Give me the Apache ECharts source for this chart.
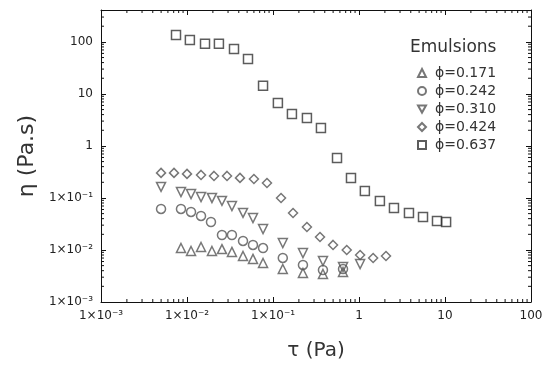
<!DOCTYPE html>
<html><head><meta charset="utf-8">
<script src="https://cdn.jsdelivr.net/npm/echarts@6/dist/echarts.min.js"></script>
<style>html,body{margin:0;padding:0;background:#fff}#c{width:550px;height:366px}</style>
</head><body><div id="c"></div>
<script>
const tickExponents = [-3, -2, -1, 0, 1, 2];
const tickLabels = ['1×10⁻³', '1×10⁻²', '1×10⁻¹', '1', '10', '100'];
const seriesNames = ['ϕ=0.171', 'ϕ=0.242', 'ϕ=0.310', 'ϕ=0.424', 'ϕ=0.637'];

const tau171 = [0.00851,0.01114,0.01456,0.0195,0.0255,0.0333,0.0448,0.0585,0.0766,0.130,0.223,0.381,0.652];
const eta171 = [0.0109,0.00957,0.0114,0.00957,0.0104,0.00916,0.00767,0.00672,0.00562,0.00431,0.00361,0.00345,0.00377];

const tau242 = [0.00499,0.00851,0.01114,0.01456,0.0190,0.0255,0.0333,0.0448,0.0585,0.0766,0.130,0.223,0.381,0.652];
const eta242 = [0.0614,0.0614,0.0538,0.0451,0.0345,0.0194,0.0194,0.0149,0.0125,0.0109,0.00702,0.00515,0.00412,0.00431];

const tau310 = [0.00499,0.00851,0.01114,0.01456,0.0195,0.0255,0.0333,0.0448,0.0585,0.0766,0.130,0.223,0.381,0.652,1.03];
const eta310 = [0.163,0.130,0.119,0.104,0.100,0.0876,0.0701,0.0515,0.0412,0.0253,0.0136,0.00875,0.00614,0.00471,0.00538];

const tau424 = [0.00499,0.00706,0.0100,0.01456,0.0206,0.0292,0.0413,0.0600,0.0851,0.124,0.171,0.248,0.352,0.499,0.720,1.03,1.46,2.06];
const eta424 = [0.303,0.303,0.290,0.277,0.265,0.265,0.243,0.232,0.194,0.100,0.0515,0.0277,0.0178,0.0125,0.0100,0.0080,0.0070,0.00767];

const tau637 = [0.00745,0.0108,0.0162,0.0235,0.0352,0.0512,0.0766,0.114,0.166,0.248,0.361,0.555,0.807,1.17,1.75,2.55,3.81,5.55,8.07,10.3];
const eta637 = [136,109,91.6,91.6,73.3,47.1,14.3,6.71,4.12,3.45,2.22,0.588,0.243,0.136,0.0876,0.0642,0.0515,0.0431,0.0361,0.0345];

const X_MIN = 0.001, X_MAX = 100, Y_MIN = 0.001, Y_MAX = 410;

function pair(xs, ys) { return xs.map((x, i) => [x, ys[i]]); }
function fmt(v) {
  const e = Math.round(Math.log10(v));
  if (Math.abs(Math.log10(v) - e) > 1e-6) return '';
  const i = tickExponents.indexOf(e);
  return i >= 0 ? tickLabels[i] : '';
}

// minor tick positions (2..9 × 10^k) built from the decade list
const minorTicks = [];
tickExponents.slice(0, -1).forEach(e => {
  for (let m = 2; m <= 9; m++) {
    const v = m * Math.pow(10, e);
    minorTicks.push([v, Y_MIN, 'b']);
    minorTicks.push([v, Y_MAX, 't']);
    minorTicks.push([X_MIN, v, 'l']);
    minorTicks.push([X_MAX, v, 'r']);
  }
});
for (let m = 2; m <= 4; m++) {
  minorTicks.push([X_MIN, m * 100, 'l']);
  minorTicks.push([X_MAX, m * 100, 'r']);
}

const mk = (name, data, symbol, color) => ({
  name, type: 'scatter', data, symbol, symbolSize: 9,
  itemStyle: { color: 'rgba(0,0,0,0)', borderColor: color, borderWidth: 1.5 },
  emphasis: { disabled: true }, z: 3
});

const axisCommon = {
  type: 'log', logBase: 10,
  axisLine: { show: true, lineStyle: { color: '#111', width: 1 } },
  axisTick: { show: true, inside: true, length: 5, lineStyle: { color: '#111' } },
  splitLine: { show: false },
  minorTick: { show: false }
};

const chart = echarts.init(document.getElementById('c'), null, { renderer: 'canvas' });
chart.setOption({
  animation: false,
  backgroundColor: '#fff',
  textStyle: { fontFamily: 'DejaVu Sans' },
  grid: { left: 101, right: 19, top: 10, bottom: 63 },
  title: {
    text: 'Emulsions', left: 405, top: 34,
    textStyle: { fontFamily: 'DejaVu Sans', fontSize: 17, fontWeight: 'normal', color: '#333' }
  },
  legend: {
    orient: 'vertical', left: 412, top: 61, itemGap: 4,
    itemWidth: 8, itemHeight: 8, selectedMode: false,
    textStyle: { fontFamily: 'DejaVu Sans', fontSize: 14, color: '#333', padding: [0, 0, 0, 4] },
    data: seriesNames
  },
  xAxis: [
    Object.assign({}, axisCommon, {
      min: X_MIN, max: X_MAX, position: 'bottom',
      name: 'τ (Pa)', nameLocation: 'middle', nameGap: 39,
      nameTextStyle: { fontFamily: 'DejaVu Sans', fontSize: 20, color: '#333' },
      axisLabel: { formatter: fmt, fontSize: 12, color: '#222', margin: 8 }
    }),
    Object.assign({}, axisCommon, {
      min: X_MIN, max: X_MAX, position: 'top', axisLabel: { show: false }
    })
  ],
  yAxis: [
    Object.assign({}, axisCommon, {
      min: Y_MIN, max: Y_MAX, position: 'left',
      name: 'η (Pa.s)', nameLocation: 'middle', nameGap: 55,
      nameTextStyle: { fontFamily: 'DejaVu Sans', fontSize: 22, color: '#333' },
      axisLabel: { formatter: fmt, fontSize: 12, color: '#222', margin: 8 }
    }),
    Object.assign({}, axisCommon, {
      min: Y_MIN, max: Y_MAX, position: 'right', axisLabel: { show: false }
    })
  ],
  series: [
    mk(seriesNames[0], pair(tau171, eta171), 'triangle', '#555'),
    mk(seriesNames[1], pair(tau242, eta242), 'circle', '#555'),
    mk(seriesNames[2], pair(tau310, eta310), 'path://M0,0L10,0L5,9Z', '#555'),
    mk(seriesNames[3], pair(tau424, eta424), 'diamond', '#555'),
    mk(seriesNames[4], pair(tau637, eta637), 'rect', '#333'),
    {
      type: 'custom', silent: true, z: 2, data: minorTicks,
      renderItem: function (params, api) {
        const p = api.coord([api.value(0), api.value(1)]);
        const side = minorTicks[params.dataIndex][2];
        const L = 3;
        let x2 = p[0], y2 = p[1];
        if (side === 'b') y2 -= L; else if (side === 't') y2 += L;
        else if (side === 'l') x2 += L; else x2 -= L;
        return { type: 'line', shape: { x1: p[0], y1: p[1], x2: x2, y2: y2 },
                 style: { stroke: '#111', lineWidth: 1 } };
      }
    }
  ]
});
</script></body></html>
